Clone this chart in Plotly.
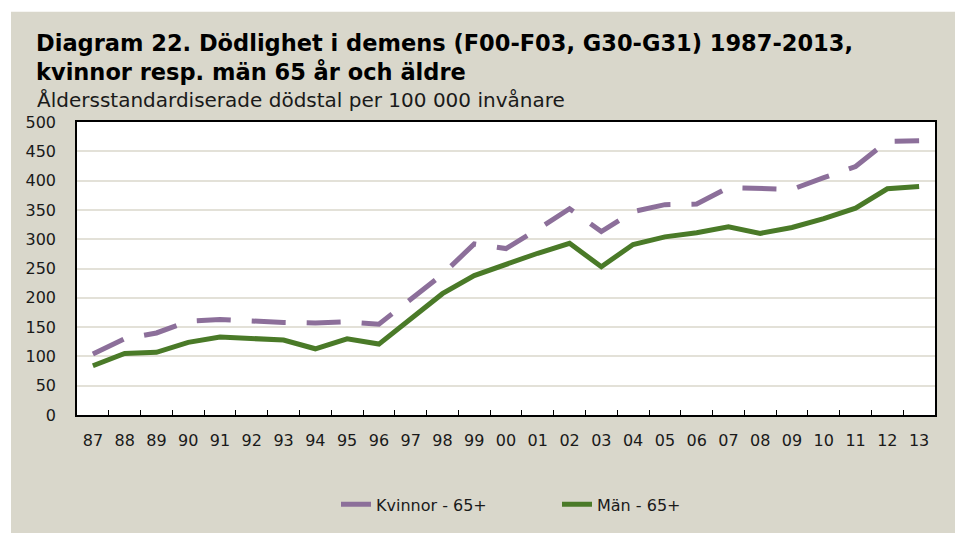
import plotly.graph_objects as go

years = ["87","88","89","90","91","92","93","94","95","96","97","98","99",
         "00","01","02","03","04","05","06","07","08","09","10","11","12","13"]
kvinnor = [104,130,140,160,163,160,158,157,159,155,198,240,292,
           284,317,352,313,347,359,360,388,386,385,405,424,467,468]
man = [84,105,107,124,133,130,128,113,130,121,164,207,238,
       258,276,293,253,291,304,311,321,310,320,335,353,386,390]

y_ticks = [0,50,100,150,200,250,300,350,400,450,500]

BG = "#D9D7CB"
FONT = "DejaVu Sans"

L, R, T, B = 77, 20, 122, 116
W, H = 955, 533
pw, ph = W - L - R, H - T - B

def px(x):
    return (x - L) / pw

def py(y):
    return (H - B - y) / ph

fig = go.Figure()
fig.add_trace(go.Scatter(x=years, y=kvinnor, mode="lines", name="Kvinnor - 65+",
                         line=dict(color="#8C6F9A", width=5, dash="34px,21px")))
fig.add_trace(go.Scatter(x=years, y=man, mode="lines", name="Män - 65+",
                         line=dict(color="#4A7A28", width=5)))

fig.update_layout(
    width=W, height=H,
    margin=dict(l=L, r=R, t=T, b=B, pad=0),
    paper_bgcolor=BG, plot_bgcolor="white",
    font=dict(family=FONT, size=16, color="#1a1a1a"),
    showlegend=True,
    legend=dict(orientation="h", x=px(336), xanchor="left", y=py(507), yanchor="middle",
                font=dict(size=16, color="#1a1a1a"), bgcolor="rgba(0,0,0,0)",
                entrywidth=176, entrywidthmode="pixels", traceorder="normal"),
    xaxis=dict(type="category", showgrid=False, showline=True, linecolor="#000", linewidth=1.5,
               mirror=True, ticks="inside", ticklen=5, tickcolor="#000", tickson="boundaries",
               tickfont=dict(size=16), range=[-0.5, 26.5], zeroline=False, ticklabelstandoff=10),
    yaxis=dict(range=[0, 500], tickvals=y_ticks, showgrid=True, gridcolor="#E3E1D8", gridwidth=1.5,
               showline=True, linecolor="#000", linewidth=1.5, mirror=True, ticks="",
               tickfont=dict(size=16), zeroline=False, ticklabelstandoff=16),
    shapes=[
        dict(type="rect", xref="paper", yref="paper", x0=px(-20), x1=px(W + 20), y0=py(11), y1=py(-20),
             fillcolor="white", line=dict(width=0), layer="below"),
        dict(type="rect", xref="paper", yref="paper", x0=px(-20), x1=px(11), y0=py(H + 20), y1=py(-20),
             fillcolor="white", line=dict(width=0), layer="below"),
    ],
    annotations=[
        dict(text="<b>Diagram 22. Dödlighet i demens (F00-F03, G30-G31) 1987-2013,</b>", xref="paper", yref="paper",
             x=px(34), y=py(42), xanchor="left", yanchor="middle", showarrow=False,
             font=dict(size=22.5, color="#000", family=FONT)),
        dict(text="<b>kvinnor resp. män 65 år och äldre</b>", xref="paper", yref="paper",
             x=px(34), y=py(72), xanchor="left", yanchor="middle", showarrow=False,
             font=dict(size=22.5, color="#000", family=FONT)),
        dict(text="Åldersstandardiserade dödstal per 100 000 invånare", xref="paper", yref="paper",
             x=px(35), y=py(100), xanchor="left", yanchor="middle", showarrow=False,
             font=dict(size=20, color="#1a1a1a", family=FONT)),
    ],
)

fig.write_html("out.html", config={"displayModeBar": False},
               post_script="document.body.style.margin='0';document.body.style.overflow='hidden';")
